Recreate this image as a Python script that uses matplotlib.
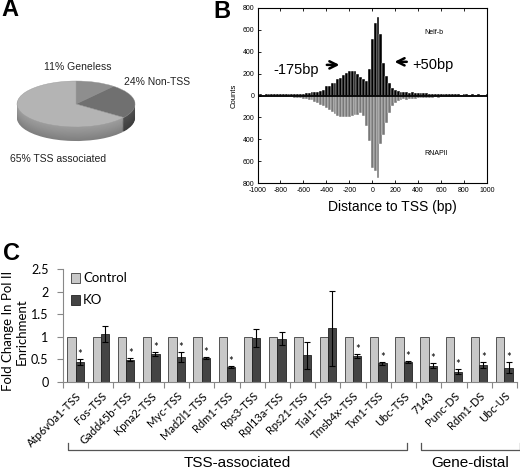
import numpy as np
import matplotlib
matplotlib.use('Agg')
import matplotlib.pyplot as plt
from matplotlib.patches import Patch

plt.rcParams['font.family'] = ['Liberation Sans', 'DejaVu Sans']

# ---------------- data ----------------
# Panel A
pie_labels = ['11% Geneless', '24% Non-TSS', '65% TSS associated']
pie_values = [11, 24, 65]

# Panel B (bins centred every 25 bp)
bin_centers = np.arange(-1000, 1001, 25)
nelf_counts = [10, 12, 9, 13, 11, 14, 12, 10, 15, 13, 16, 14, 17, 15, 18, 16,
               18, 20, 24, 28, 32, 36, 42, 50,
               88, 85, 110, 118, 150, 160, 185, 205, 222, 228, 225, 198, 170, 148, 135, 245,
               520, 665, 720, 560, 300, 180, 110, 72, 48, 38,
               30, 28, 30, 26, 28, 25, 26, 22, 20, 22, 18, 16, 18, 14, 15, 12,
               14, 11, 12, 10, 12, 9, 10, 11, 8, 10, 9, 11, 8, 9, 10]
rnap_counts = [12, 10, 14, 11, 13, 12, 15, 14, 13, 16, 15, 18, 17, 20, 19, 22,
               28, 32, 38, 45, 60, 72, 85, 100,
               110, 128, 150, 165, 185, 195, 198, 195, 200, 190, 175, 182, 160, 190, 280, 420,
               660, 690, 750, 440, 360, 250, 160, 100, 70, 50,
               40, 35, 38, 32, 30, 28, 26, 25, 24, 22, 20, 22, 18, 20, 16, 18,
               15, 14, 16, 12, 14, 13, 11, 12, 10, 12, 11, 10, 12, 9, 10]
b_xticks = list(range(-1000, 1001, 200))
b_yticks = list(range(-800, 801, 200))

# Panel C
genes = ['Atp6v0a1-TSS', 'Fos-TSS', 'Gadd45b-TSS', 'Kpna2-TSS', 'Myc-TSS',
         'Mad2l1-TSS', 'Rdm1-TSS', 'Rps3-TSS', 'Rpl13a-TSS', 'Rps21-TSS',
         'Tial1-TSS', 'Tmsb4x-TSS', 'Txn1-TSS', 'Ubc-TSS', '7143', 'Punc-DS',
         'Rdm1-DS', 'Ubc-US']
control_vals = [1.0] * 18
ko_vals = [0.44, 1.06, 0.49, 0.62, 0.56, 0.53, 0.34, 0.97, 0.96, 0.59,
           1.19, 0.58, 0.41, 0.44, 0.36, 0.23, 0.37, 0.32]
ko_err = [0.06, 0.18, 0.03, 0.05, 0.11, 0.02, 0.02, 0.20, 0.14, 0.30,
          0.83, 0.05, 0.03, 0.02, 0.05, 0.06, 0.07, 0.12]
ko_sig = [1, 0, 1, 1, 1, 1, 1, 0, 0, 0, 0, 1, 1, 1, 1, 1, 1, 1]
c_yticks = [0, 0.5, 1, 1.5, 2, 2.5]
c_yticklabels = ['0', '0.5', '1', '1.5', '2', '2.5']
groups = [('TSS-associated', -0.3, 13.15), ('Gene-distal', 13.7, 17.6)]

# ---------------- layout helpers ----------------
W, H = 520, 471
fig = plt.figure(figsize=(W / 100, H / 100), dpi=100)


def rect(l, t, r, b):
    return [l / W, 1 - b / H, (r - l) / W, (b - t) / H]


def fpos(x, y):
    return (x / W, 1 - y / H)


# panel letters
for letter, (x, y) in zip(['A', 'B', 'C'], [(10, 10), (222, 12), (11, 253)]):
    fig.text(*fpos(x, y), letter, fontsize=17, fontweight='bold',
             ha='center', va='center')

# ---------------- Panel A: 3D-like pie ----------------
axA = fig.add_axes(rect(10, 75, 145, 155))
top_cols = ['#8e8e8e', '#707070', '#b4b4b4']
side_top = np.array([[0.45, 0.45, 0.45], [0.32, 0.32, 0.32], [0.62, 0.62, 0.62]])
side_bot = np.array([[0.36, 0.36, 0.36], [0.24, 0.24, 0.24], [0.50, 0.50, 0.50]])
depth = 14 / 23
nsteps = 16
for i in range(nsteps, 0, -1):
    f = i / nsteps
    cols = [tuple(side_top[j] * (1 - f) + side_bot[j] * f) for j in range(3)]
    axA.pie(pie_values, startangle=90, counterclock=False, colors=cols,
            center=(0, -depth * f), wedgeprops=dict(linewidth=0))
axA.pie(pie_values, startangle=90, counterclock=False, colors=top_cols,
        center=(0, 0), wedgeprops=dict(linewidth=0.3, edgecolor='#9a9a9a'))
axA.set_aspect('auto')
axA.set_xlim(-1.119, 1.169)
axA.set_ylim(-2.217, 1.261)
axA.axis('off')

fig.text(*fpos(78, 67), pie_labels[0], fontsize=7.5, ha='center', va='center', color='#222222')
fig.text(*fpos(124, 82), pie_labels[1], fontsize=7.5, ha='left', va='center', color='#222222')
fig.text(*fpos(10, 159), pie_labels[2], fontsize=7.5, ha='left', va='center', color='#222222')

# ---------------- Panel B: histogram ----------------
axB = fig.add_axes(rect(257.5, 8, 487, 183))
axB.bar(bin_centers, nelf_counts, width=25, color='black', edgecolor='white', linewidth=0.3)
axB.bar(bin_centers, -np.array(rnap_counts), width=25, color='#787878',
        edgecolor='white', linewidth=0.3)
axB.axhline(0, color='black', lw=1.3)
axB.set_xlim(-1000, 1000)
axB.set_ylim(-800, 800)
axB.set_xticks(b_xticks)
axB.set_xticklabels([str(v) for v in b_xticks])
axB.set_yticks(b_yticks)
axB.set_yticklabels([str(abs(v)) for v in b_yticks])
axB.tick_params(direction='in', length=2, width=0.6, labelsize=5, top=True, pad=2)
axB.tick_params(axis='x', pad=3.2)
for s in axB.spines.values():
    s.set_linewidth(0.8)
axB.set_ylabel('Counts', fontsize=5.5)
axB.yaxis.set_label_coords(-0.085, 0.5)
axB.set_xlabel('Distance to TSS (bp)', fontsize=10)
axB.xaxis.set_label_coords(0.586, -0.1)
axB.text(540, 572, 'Nelf-b', fontsize=5, ha='center', va='center')
axB.text(557, -533, 'RNAPII', fontsize=5, ha='center', va='center')
axB.annotate('', xy=(-262, 280), xytext=(-420, 280),
             arrowprops=dict(arrowstyle='->', lw=1.8, mutation_scale=13, color='black'))
axB.text(-664, 235, '-175bp', fontsize=10.5, ha='center', va='center')
axB.annotate('', xy=(170, 308), xytext=(325, 308),
             arrowprops=dict(arrowstyle='->', lw=1.8, mutation_scale=13, color='black'))
axB.text(531, 280, '+50bp', fontsize=10.5, ha='center', va='center')

# ---------------- Panel C: bar chart ----------------
cfont = ['Lato', 'DejaVu Sans']
axC = fig.add_axes(rect(63, 269, 517, 382))
x = np.arange(len(genes))
w = 0.33
axC.bar(x - w / 2, control_vals, w, color='#c8c8c8', edgecolor='#3c3c3c', linewidth=0.6,
        label='Control', zorder=2)
axC.bar(x + w / 2, ko_vals, w, color='#444444', edgecolor='#222222', linewidth=0.6,
        label='KO', zorder=2)
axC.errorbar(x + w / 2, ko_vals, yerr=ko_err, fmt='none', ecolor='black', elinewidth=0.8,
             capsize=2.5, capthick=0.8, zorder=3)
for xi, v, e, s in zip(x, ko_vals, ko_err, ko_sig):
    if s:
        axC.text(xi + w / 2, v + e + 0.1, '*', fontsize=8, ha='center', va='center',
                 family=cfont)
axC.set_xlim(-0.5, len(genes) - 0.5)
axC.set_ylim(0, 2.5)
axC.set_yticks(c_yticks)
axC.set_yticklabels(c_yticklabels, family=cfont, fontsize=9)
axC.set_xticks(np.arange(len(genes) + 1) - 0.5)
axC.set_xticklabels([])
axC.set_xticks(x, minor=True)
axC.set_xticklabels(genes, minor=True, rotation=45, ha='right', va='top',
                    rotation_mode='anchor', family=cfont, fontsize=8)
axC.tick_params(axis='x', which='minor', length=0, pad=6)
axC.tick_params(axis='x', which='major', length=4, width=0.8, color='#888888')
axC.tick_params(axis='y', length=4, width=0.8, color='#888888', pad=6.5)
for side in ['top', 'right']:
    axC.spines[side].set_visible(False)
for side in ['left', 'bottom']:
    axC.spines[side].set_color('#888888')
    axC.spines[side].set_linewidth(0.8)
axC.set_ylabel('Fold Change In Pol II\nEnrichment', family=cfont, fontsize=9.5, linespacing=1.2)
axC.yaxis.set_label_coords(-0.077, 0.45)
handles = [Patch(facecolor='#c8c8c8', edgecolor='#3c3c3c', linewidth=0.6),
           Patch(facecolor='#444444', edgecolor='#222222', linewidth=0.6)]
axC.legend(handles, ['Control', 'KO'], loc='upper left', bbox_to_anchor=(0.018, 0.97),
           frameon=False, handlelength=0.7, handleheight=0.8, handletextpad=0.2,
           labelspacing=0.75, borderpad=0, borderaxespad=0,
           prop={'family': cfont, 'size': 9.5})

# group brackets
tr = axC.get_xaxis_transform()
for name, x0, x1 in groups:
    axC.plot([x0, x0, x1, x1], [-0.54, -0.60, -0.60, -0.54], color='#555555', lw=0.9,
             transform=tr, clip_on=False)
    axC.text((x0 + x1) / 2, -0.72, name, fontsize=11, ha='center', va='center',
             transform=tr)

fig.savefig('out.png', dpi=100)
